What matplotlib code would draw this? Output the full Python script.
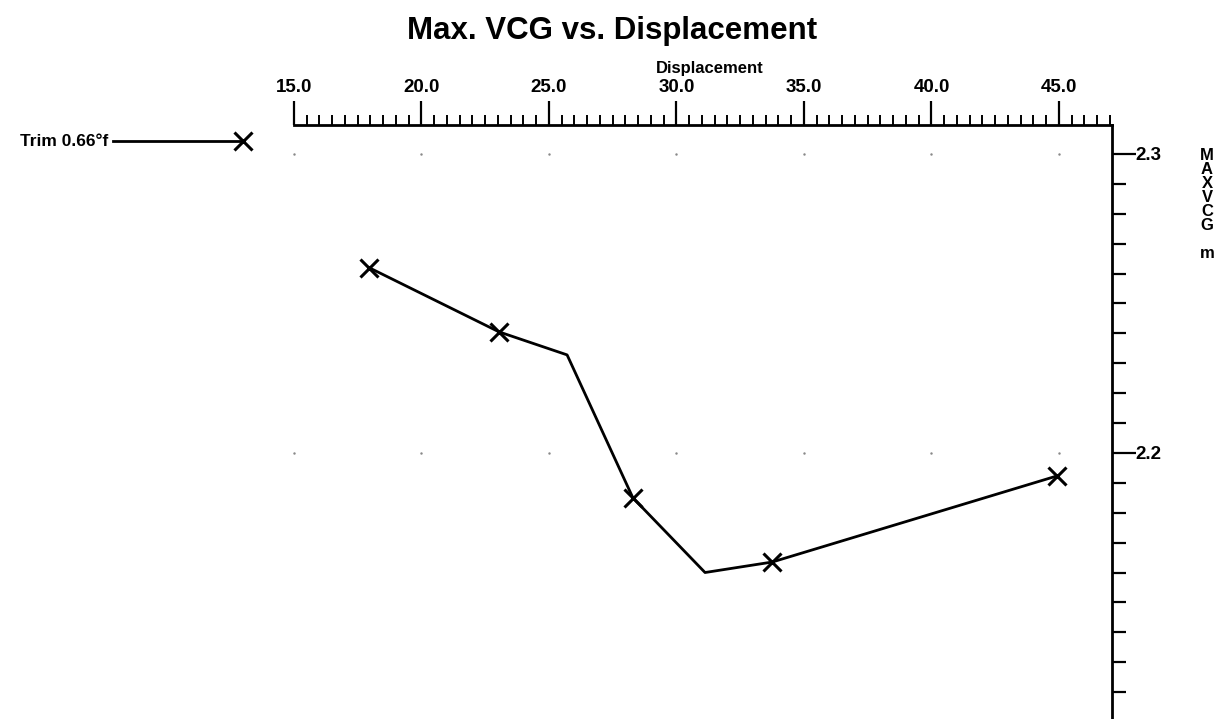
import matplotlib.pyplot as plt
from matplotlib.lines import Line2D
from matplotlib.ticker import MultipleLocator, FormatStrFormatter

plt.rcParams['font.family'] = ['Liberation Sans', 'DejaVu Sans']
plt.rcParams['font.weight'] = 'bold'

# Max VCG curve (Trim 0.66 deg fwd)
displacement = [17.94, 23.04, 25.71, 28.29, 31.12, 33.75, 44.92]
max_vcg = [2.262, 2.2405, 2.2328, 2.185, 2.160, 2.1635, 2.1923]
# which points carry a marker
marked = [0, 1, 3, 5, 6]
legend_label = "Trim 0.66°f"

grid_x = [15.0, 20.0, 25.0, 30.0, 35.0, 40.0, 45.0]
grid_y = [2.3, 2.2]

W, H = 1224, 719
fig = plt.figure(figsize=(W / 100, H / 100), dpi=100)
ax = fig.add_axes([294 / W, 0.0, (1112 - 294) / W, 1 - 125 / H])

ax.set_xlim(15.0, 47.08)
ax.set_ylim(2.111, 2.3097)

# faint dotted grid points
for gx in grid_x:
    for gy in grid_y:
        ax.plot(gx, gy, marker='.', ms=1.5, color='#888888', clip_on=False)

ax.plot(displacement, max_vcg, color='black', lw=2.0,
        marker='x', markevery=marked, ms=13, mew=2.2, clip_on=False)

# axes styling: x axis on top, y axis on the right
for s in ['left', 'bottom']:
    ax.spines[s].set_visible(False)
for s in ['top', 'right']:
    ax.spines[s].set_linewidth(2.0)

ax.xaxis.set_ticks_position('top')
ax.xaxis.set_label_position('top')
ax.yaxis.set_ticks_position('right')

ax.xaxis.set_major_locator(MultipleLocator(5))
ax.xaxis.set_minor_locator(MultipleLocator(0.5))
ax.xaxis.set_major_formatter(FormatStrFormatter('%.1f'))
ax.yaxis.set_major_locator(MultipleLocator(0.1))
ax.yaxis.set_minor_locator(MultipleLocator(0.01))
ax.yaxis.set_major_formatter(FormatStrFormatter('%.1f'))

ax.tick_params(axis='x', which='major', direction='out', length=17, width=1.6,
               labelsize=13.5, pad=4)
ax.tick_params(axis='x', which='minor', direction='out', length=7, width=1.4)
ax.tick_params(axis='y', which='major', direction='out', length=17, width=1.6,
               labelsize=13.5, pad=0)
ax.tick_params(axis='y', which='minor', direction='out', length=10, width=1.6)

ax.set_xlabel("Displacement", fontsize=12, fontweight='bold')
ax.xaxis.set_label_coords((710 - 294) / 818, 1 + 57 / 594)
ax.xaxis.label.set_va('center')

fig.text(0.5, 1 - 31 / H, "Max. VCG vs. Displacement", ha='center',
         va='center', fontsize=22.5, fontweight='bold')

fig.text(1207 / W, 1 - 148 / H, "M\nA\nX\nV\nC\nG\n\nm", ha='center',
         va='top', fontsize=12, fontweight='bold', linespacing=0.92)

# legend key drawn by hand: label, line, marker at the right end
ly = 1 - 141 / H
fig.add_artist(Line2D([113 / W, 243 / W], [ly, ly], color='black', lw=2.0,
                      marker='x', markevery=[1], ms=13, mew=2.2))
fig.text(108 / W, ly, legend_label, ha='right', va='center',
         fontsize=12.5, fontweight='bold')

fig.savefig('out.png', dpi=100, facecolor='white')
